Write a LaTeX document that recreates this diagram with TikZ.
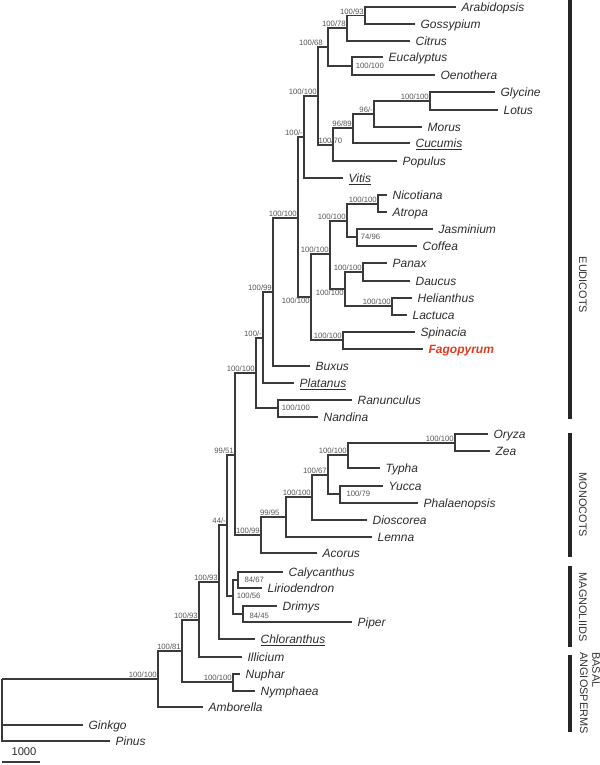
\documentclass[tikz,border=0pt]{standalone}
\usepackage{fontspec}
\setmainfont{Liberation Sans}
\usepackage{tikz}
\definecolor{branchgray}{RGB}{58,58,58}
\definecolor{taxongray}{RGB}{45,45,45}
\definecolor{bootgray}{RGB}{85,85,85}
\definecolor{focusred}{RGB}{226,58,30}
\tikzset{
  branch/.style={draw=branchgray,line width=1.05pt},
  taxon/.style={anchor=west,inner sep=1pt,xshift=3pt,text height=6.4pt,text depth=0pt,font=\itshape\fontsize{9}{10}\selectfont,text=taxongray},
  focustaxon/.style={taxon,font=\bfseries\itshape\fontsize{9}{10}\selectfont,text=focusred},
  boot/.style={inner sep=0.7pt,text height=4pt,text depth=0pt,font=\fontsize{5.8}{6}\selectfont,text=bootgray},
  cladebar/.style={draw=black!85,line width=3pt},
  cladename/.style={rotate=-90,align=left,inner sep=0pt,font=\fontsize{8.2}{9.2}\selectfont,text=black!80}
}

\begin{document}
\begin{tikzpicture}[x=0.75pt,y=-0.75pt]
  \useasboundingbox (0,0) rectangle (600,765);
  \coordinate (t-arab) at (456,7);
  \coordinate (t-goss) at (415,24);
  \coordinate (t-citr) at (410,41);
  \coordinate (t-euca) at (383,57);
  \coordinate (t-oeno) at (435,75);
  \coordinate (t-glyc) at (495,92);
  \coordinate (t-lotu) at (498,110);
  \coordinate (t-moru) at (422,127);
  \coordinate (t-cucu) at (410,143);
  \coordinate (t-popu) at (397,161);
  \coordinate (t-viti) at (343,178);
  \coordinate (t-nico) at (387,195);
  \coordinate (t-atro) at (387,212);
  \coordinate (t-jasm) at (433,229);
  \coordinate (t-coff) at (417,246);
  \coordinate (t-pana) at (387,263);
  \coordinate (t-dauc) at (410,281);
  \coordinate (t-heli) at (412,298);
  \coordinate (t-lact) at (407,315);
  \coordinate (t-spin) at (415,332);
  \coordinate (t-fago) at (423,349);
  \coordinate (t-buxu) at (310,366);
  \coordinate (t-plat) at (294,383);
  \coordinate (t-ranu) at (352,400);
  \coordinate (t-nand) at (318,417);
  \coordinate (t-oryz) at (488,434);
  \coordinate (t-zea) at (490,451);
  \coordinate (t-typh) at (380,468);
  \coordinate (t-yucc) at (383,486);
  \coordinate (t-phal) at (418,503);
  \coordinate (t-dios) at (367,520);
  \coordinate (t-lemn) at (372,537);
  \coordinate (t-acor) at (317,553);
  \coordinate (t-caly) at (283,572);
  \coordinate (t-liri) at (262,588);
  \coordinate (t-drim) at (277,606);
  \coordinate (t-pipe) at (352,622);
  \coordinate (t-chlo) at (255,639);
  \coordinate (t-illi) at (242,657);
  \coordinate (t-nuph) at (240,674);
  \coordinate (t-nymp) at (255,691);
  \coordinate (t-ambo) at (203,707);
  \coordinate (t-gink) at (83,725);
  \coordinate (t-pinu) at (110,741);

  \coordinate (root) at (2,679);
  \coordinate (angio) at (158,679);
  \coordinate (n81) at (182,651);
  \coordinate (nymphs) at (233,682);
  \coordinate (n93a) at (199,620);
  \coordinate (n93b) at (219,582);
  \coordinate (n44) at (227,525);
  \coordinate (magno) at (233,596);
  \coordinate (calyc) at (238,580);
  \coordinate (piper) at (243,614);
  \coordinate (n9951) at (235,455);
  \coordinate (mono) at (261,535);
  \coordinate (n9995) at (286,517);
  \coordinate (n100m) at (312,497);
  \coordinate (n67) at (328,475);
  \coordinate (n100t) at (348,455);
  \coordinate (grass) at (455,443);
  \coordinate (orchid) at (340,494);
  \coordinate (eud) at (256,373);
  \coordinate (ranun) at (278,408);
  \coordinate (n100d) at (263,338);
  \coordinate (n99) at (273,292);
  \coordinate (core) at (298,218);
  \coordinate (superast) at (311,297);
  \coordinate (caryo) at (343,340);
  \coordinate (aster) at (330,254);
  \coordinate (lamiid) at (347,221);
  \coordinate (solan) at (378,204);
  \coordinate (n7496) at (357,237);
  \coordinate (campan) at (345,289);
  \coordinate (apiac) at (363,272);
  \coordinate (compos) at (392,306);
  \coordinate (n100e) at (304,137);
  \coordinate (rosid) at (318,96);
  \coordinate (n68) at (328,47);
  \coordinate (n78) at (347,28);
  \coordinate (n93) at (365,15.5);
  \coordinate (myrt) at (352,66);
  \coordinate (n70) at (333,145);
  \coordinate (n89) at (353,128);
  \coordinate (n96) at (374,114);
  \coordinate (legume) at (430,101);

  \draw[branch] (root) |- (angio) (root) |- (t-gink) (root) |- (t-pinu);
  \draw[branch] (angio) |- (n81) (angio) |- (t-ambo);
  \draw[branch] (n81) |- (n93a) (n81) |- (nymphs);
  \draw[branch] (nymphs) |- (t-nuph) (nymphs) |- (t-nymp);
  \draw[branch] (n93a) |- (n93b) (n93a) |- (t-illi);
  \draw[branch] (n93b) |- (n44) (n93b) |- (t-chlo);
  \draw[branch] (n44) |- (n9951) (n44) |- (magno);
  \draw[branch] (magno) |- (calyc) (magno) |- (piper);
  \draw[branch] (calyc) |- (t-caly) (calyc) |- (t-liri);
  \draw[branch] (piper) |- (t-drim) (piper) |- (t-pipe);
  \draw[branch] (n9951) |- (eud) (n9951) |- (mono);
  \draw[branch] (mono) |- (n9995) (mono) |- (t-acor);
  \draw[branch] (n9995) |- (n100m) (n9995) |- (t-lemn);
  \draw[branch] (n100m) |- (n67) (n100m) |- (t-dios);
  \draw[branch] (n67) |- (n100t) (n67) |- (orchid);
  \draw[branch] (n100t) |- (grass) (n100t) |- (t-typh);
  \draw[branch] (grass) |- (t-oryz) (grass) |- (t-zea);
  \draw[branch] (orchid) |- (t-yucc) (orchid) |- (t-phal);
  \draw[branch] (eud) |- (n100d) (eud) |- (ranun);
  \draw[branch] (ranun) |- (t-ranu) (ranun) |- (t-nand);
  \draw[branch] (n100d) |- (n99) (n100d) |- (t-plat);
  \draw[branch] (n99) |- (core) (n99) |- (t-buxu);
  \draw[branch] (core) |- (n100e) (core) |- (superast);
  \draw[branch] (superast) |- (aster) (superast) |- (caryo);
  \draw[branch] (caryo) |- (t-spin) (caryo) |- (t-fago);
  \draw[branch] (aster) |- (lamiid) (aster) |- (campan);
  \draw[branch] (lamiid) |- (solan) (lamiid) |- (n7496);
  \draw[branch] (solan) |- (t-nico) (solan) |- (t-atro);
  \draw[branch] (n7496) |- (t-jasm) (n7496) |- (t-coff);
  \draw[branch] (campan) |- (apiac) (campan) |- (compos);
  \draw[branch] (apiac) |- (t-pana) (apiac) |- (t-dauc);
  \draw[branch] (compos) |- (t-heli) (compos) |- (t-lact);
  \draw[branch] (n100e) |- (rosid) (n100e) |- (t-viti);
  \draw[branch] (rosid) |- (n68) (rosid) |- (n70);
  \draw[branch] (n68) |- (n78) (n68) |- (myrt);
  \draw[branch] (n78) |- (n93) (n78) |- (t-citr);
  \draw[branch] (n93) |- (t-arab) (n93) |- (t-goss);
  \draw[branch] (myrt) |- (t-euca) (myrt) |- (t-oeno);
  \draw[branch] (n70) |- (n89) (n70) |- (t-popu);
  \draw[branch] (n89) |- (n96) (n89) |- (t-cucu);
  \draw[branch] (n96) |- (legume) (n96) |- (t-moru);
  \draw[branch] (legume) |- (t-glyc) (legume) |- (t-lotu);

  \node[taxon] (arabidopsis) at (t-arab) {Arabidopsis};
  \node[taxon] (gossypium) at (t-goss) {Gossypium};
  \node[taxon] (citrus) at (t-citr) {Citrus};
  \node[taxon] (eucalyptus) at (t-euca) {Eucalyptus};
  \node[taxon] (oenothera) at (t-oeno) {Oenothera};
  \node[taxon] (glycine) at (t-glyc) {Glycine};
  \node[taxon] (lotus) at (t-lotu) {Lotus};
  \node[taxon] (morus) at (t-moru) {Morus};
  \node[taxon] (cucumis) at (t-cucu) {\underline{Cucumis}};
  \node[taxon] (populus) at (t-popu) {Populus};
  \node[taxon] (vitis) at (t-viti) {\underline{Vitis}};
  \node[taxon] (nicotiana) at (t-nico) {Nicotiana};
  \node[taxon] (atropa) at (t-atro) {Atropa};
  \node[taxon] (jasminium) at (t-jasm) {Jasminium};
  \node[taxon] (coffea) at (t-coff) {Coffea};
  \node[taxon] (panax) at (t-pana) {Panax};
  \node[taxon] (daucus) at (t-dauc) {Daucus};
  \node[taxon] (helianthus) at (t-heli) {Helianthus};
  \node[taxon] (lactuca) at (t-lact) {Lactuca};
  \node[taxon] (spinacia) at (t-spin) {Spinacia};
  \node[focustaxon] (fagopyrum) at (t-fago) {Fagopyrum};
  \node[taxon] (buxus) at (t-buxu) {Buxus};
  \node[taxon] (platanus) at (t-plat) {\underline{Platanus}};
  \node[taxon] (ranunculus) at (t-ranu) {Ranunculus};
  \node[taxon] (nandina) at (t-nand) {Nandina};
  \node[taxon] (oryza) at (t-oryz) {Oryza};
  \node[taxon] (zea) at (t-zea) {Zea};
  \node[taxon] (typha) at (t-typh) {Typha};
  \node[taxon] (yucca) at (t-yucc) {Yucca};
  \node[taxon] (phalaenopsis) at (t-phal) {Phalaenopsis};
  \node[taxon] (dioscorea) at (t-dios) {Dioscorea};
  \node[taxon] (lemna) at (t-lemn) {Lemna};
  \node[taxon] (acorus) at (t-acor) {Acorus};
  \node[taxon] (calycanthus) at (t-caly) {Calycanthus};
  \node[taxon] (liriodendron) at (t-liri) {Liriodendron};
  \node[taxon] (drimys) at (t-drim) {Drimys};
  \node[taxon] (pipernode) at (t-pipe) {Piper};
  \node[taxon] (chloranthus) at (t-chlo) {\underline{Chloranthus}};
  \node[taxon] (illicium) at (t-illi) {Illicium};
  \node[taxon] (nuphar) at (t-nuph) {Nuphar};
  \node[taxon] (nymphaea) at (t-nymp) {Nymphaea};
  \node[taxon] (amborella) at (t-ambo) {Amborella};
  \node[taxon] (ginkgo) at (t-gink) {Ginkgo};
  \node[taxon] (pinus) at (t-pinu) {Pinus};

  \node[boot,anchor=south east] (b-angio) at (angio) {100/100};
  \node[boot,anchor=south east] (b-n81) at (n81) {100/81};
  \node[boot,anchor=south east] (b-nymphs) at (nymphs) {100/100};
  \node[boot,anchor=south east] (b-n93a) at (n93a) {100/93};
  \node[boot,anchor=south east] (b-n93b) at (n93b) {100/93};
  \node[boot,anchor=south east] (b-n44) at (n44) {44/-};
  \node[boot,anchor=west,xshift=2pt] (b-magno) at (magno) {100/56};
  \node[boot,anchor=west,xshift=4pt] (b-calyc) at (calyc) {84/67};
  \node[boot,anchor=west,xshift=4pt,yshift=-1.5pt] (b-piper) at (piper) {84/45};
  \node[boot,anchor=south east] (b-n9951) at (n9951) {99/51};
  \node[boot,anchor=south east] (b-mono) at (mono) {100/99};
  \node[boot,anchor=south east,xshift=-4pt] (b-n9995) at (n9995) {99/95};
  \node[boot,anchor=south east] (b-n100m) at (n100m) {100/100};
  \node[boot,anchor=south east] (b-n67) at (n67) {100/67};
  \node[boot,anchor=south east] (b-n100t) at (n100t) {100/100};
  \node[boot,anchor=south east] (b-grass) at (grass) {100/100};
  \node[boot,anchor=west,xshift=4pt] (b-orchid) at (orchid) {100/79};
  \node[boot,anchor=south east] (b-eud) at (eud) {100/100};
  \node[boot,anchor=west,xshift=2pt] (b-ranun) at (ranun) {100/100};
  \node[boot,anchor=south east] (b-n100d) at (n100d) {100/-};
  \node[boot,anchor=south east] (b-n99) at (n99) {100/99};
  \node[boot,anchor=south east] (b-core) at (core) {100/100};
  \node[boot,anchor=north east] (b-superast) at (superast) {100/100};
  \node[boot,anchor=south east] (b-caryo) at (caryo) {100/100};
  \node[boot,anchor=south east] (b-aster) at (aster) {100/100};
  \node[boot,anchor=south east] (b-lamiid) at (lamiid) {100/100};
  \node[boot,anchor=south east] (b-solan) at (solan) {100/100};
  \node[boot,anchor=west,xshift=2pt] (b-n7496) at (n7496) {74/96};
  \node[boot,anchor=north east] (b-campan) at (campan) {100/100};
  \node[boot,anchor=south east] (b-apiac) at (apiac) {100/100};
  \node[boot,anchor=south east] (b-compos) at (compos) {100/100};
  \node[boot,anchor=south east] (b-n100e) at (n100e) {100/-};
  \node[boot,anchor=south east] (b-rosid) at (rosid) {100/100};
  \node[boot,anchor=south east,xshift=-3pt] (b-n68) at (n68) {100/68};
  \node[boot,anchor=south east] (b-n78) at (n78) {100/78};
  \node[boot,anchor=south east] (b-n93) at (n93) {100/93};
  \node[boot,anchor=west,xshift=2pt] (b-myrt) at (myrt) {100/100};
  \node[boot,anchor=south,xshift=-2pt] (b-n70) at (n70) {100/70};
  \node[boot,anchor=south east] (b-n89) at (n89) {96/89};
  \node[boot,anchor=south east] (b-n96) at (n96) {96/-};
  \node[boot,anchor=south east] (b-legume) at (legume) {100/100};

  \coordinate (s-left) at (2,762);
  \coordinate (s-right) at (40,762);
  \draw[branch] (s-left) -- (s-right);
  \node[font=\fontsize{8.4}{9}\selectfont,text=taxongray] (scale) at (24,752) {1000};

  \coordinate (eud-top) at (570,0);
  \coordinate (eud-bot) at (570,419);
  \coordinate (mono-top) at (570,433);
  \coordinate (mono-bot) at (570,557);
  \coordinate (magno-top) at (570,566);
  \coordinate (magno-bot) at (570,647);
  \coordinate (basal-top) at (570,655);
  \coordinate (basal-bot) at (570,732);
  \draw[cladebar] (eud-top) -- (eud-bot);
  \draw[cladebar] (mono-top) -- (mono-bot);
  \draw[cladebar] (magno-top) -- (magno-bot);
  \draw[cladebar] (basal-top) -- (basal-bot);
  \node[cladename] (eudicots) at (583,285) {EUDICOTS};
  \node[cladename] (monocots) at (583,505) {MONOCOTS};
  \node[cladename] (magnoliids) at (583,607) {MAGNOLIIDS};
  \node[cladename] (basal) at (590,693) {BASAL\\ANGIOSPERMS};
\end{tikzpicture}
\end{document}
